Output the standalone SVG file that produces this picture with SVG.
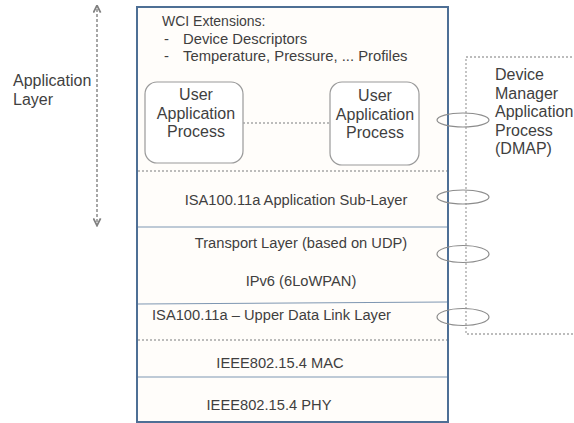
<svg xmlns="http://www.w3.org/2000/svg" width="574" height="423" viewBox="0 0 574 423">
<style>
text{font-family:"Liberation Sans",Arial,sans-serif;fill:#3f3f3f;font-size:14.7px}
.c{text-anchor:middle}
.hd{font-size:14px}
.it{font-size:14.8px}
.lg{font-size:16px}
.layer{fill:none;stroke:#7f97b2;stroke-width:1.2}
.dot{fill:none;stroke:#a6a6a6;stroke-width:1.3;stroke-dasharray:2 2}
.ell{fill:none;stroke:#8c8c8c;stroke-width:1.2}
.uap{fill:#ffffff;stroke:#9a9a9a;stroke-width:1.2}
</style>
<defs>
<marker id="ah" viewBox="0 0 10 10" refX="5" refY="5" markerWidth="6" markerHeight="6" orient="auto-start-reverse">
<path d="M1 1 L9 5 L1 9" fill="none" stroke="#7f7f7f" stroke-width="2"/>
</marker>
</defs>
<rect width="574" height="423" fill="#ffffff"/>

<g id="stack">
<rect x="137" y="7" width="311" height="415" fill="#fffdfa" stroke="#4e6f95" stroke-width="2"/>
<text class="hd" x="162" y="26">WCI Extensions:</text>
<text class="it" x="164" y="44">-</text><text class="it" x="183" y="44">Device Descriptors</text>
<text class="it" x="164" y="61">-</text><text class="it" x="183" y="61">Temperature, Pressure, ... Profiles</text>
</g>

<g id="layers">
<line class="dot" x1="138" y1="171" x2="447" y2="171"/>
<line class="layer" x1="138" y1="227" x2="447" y2="227"/>
<line class="layer" x1="138" y1="304" x2="447" y2="302"/>
<line class="dot" x1="138" y1="340" x2="447" y2="340"/>
<line class="layer" x1="138" y1="377" x2="447" y2="377"/>
<text class="c" x="296" y="205">ISA100.11a Application Sub-Layer</text>
<text class="c" x="301" y="248">Transport Layer (based on UDP)</text>
<text class="c" x="301" y="286">IPv6 (6LoWPAN)</text>
<text x="152" y="320">ISA100.11a – Upper Data Link Layer</text>
<text class="c" x="280" y="368">IEEE802.15.4 MAC</text>
<text class="c" x="269" y="410">IEEE802.15.4 PHY</text>
</g>

<g id="uap1">
<rect class="uap" x="145" y="82" width="98" height="81" rx="12"/>
<text class="c lg" x="196" y="100">User</text>
<text class="c lg" x="196" y="118.5">Application</text>
<text class="c lg" x="196" y="137">Process</text>
</g>

<g id="uap2">
<rect class="uap" x="330" y="82" width="89" height="83" rx="12"/>
<text class="c lg" x="375" y="101">User</text>
<text class="c lg" x="375" y="119.5">Application</text>
<text class="c lg" x="375" y="138">Process</text>
</g>

<g id="dmap">
<path class="dot" d="M580 57 H466 V334 H580"/>
<text class="lg" x="495" y="80">Device</text>
<text class="lg" x="495" y="98.5">Manager</text>
<text class="lg" x="495" y="117">Application</text>
<text class="lg" x="495" y="135.5">Process</text>
<text class="lg" x="495" y="154">(DMAP)</text>
</g>

<g id="applayer">
<text class="lg" x="13" y="86">Application</text>
<text class="lg" x="13" y="105">Layer</text>
</g>

<g id="connectors">
<line x1="97" y1="9" x2="97" y2="222" stroke="#8a8a8a" stroke-width="1.5" stroke-dasharray="3 2" marker-start="url(#ah)" marker-end="url(#ah)"/>
<line class="dot" x1="243" y1="123" x2="330" y2="123"/>
<ellipse class="ell" cx="463" cy="120" rx="26" ry="7"/>
<ellipse class="ell" cx="463" cy="197" rx="26" ry="7"/>
<ellipse class="ell" cx="463" cy="254" rx="26" ry="8.5"/>
<ellipse class="ell" cx="463" cy="317" rx="26" ry="8.5"/>
</g>
</svg>
